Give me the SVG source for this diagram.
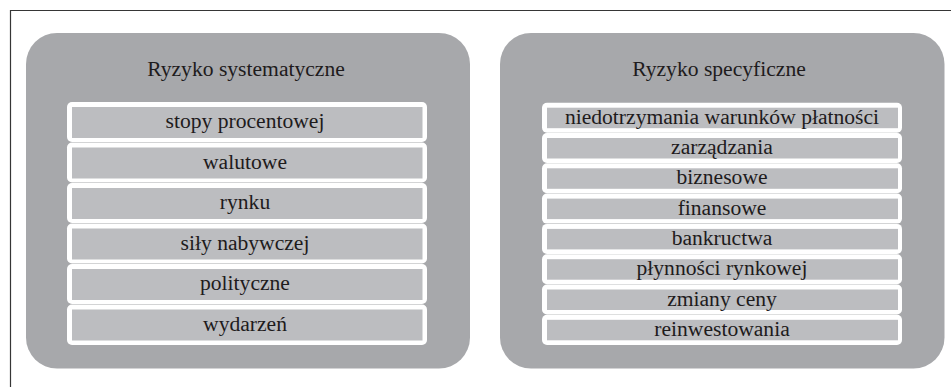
<svg xmlns="http://www.w3.org/2000/svg" width="951" height="387" viewBox="0 0 951 387">
  <style>
    .frame { fill: none; stroke: #363636; stroke-width: 1.2; }
    .panel { fill: #a7a8ab; }
    .slot { fill: #ffffff; }
    .band { fill: #bcbdc0; }
    text { font-family: "Liberation Serif", "Times New Roman", serif; font-size: 21.6px; fill: #1e1b1c; text-anchor: middle; }
  </style>

  <!-- page frame (top and left edges) -->
  <path class="frame" d="M10.5 387 V10.5 H951"/>

  <!-- systematic risk panel -->
  <g id="systematic">
    <rect class="panel" x="26" y="33" width="444" height="335.5" rx="31"/>
    <text x="246" y="76">Ryzyko systematyczne</text>
    <g id="sys-stopy">
      <rect class="slot" x="67" y="102" width="360" height="40" rx="5"/>
      <rect class="band" x="72" y="107" width="350.5" height="31"/>
      <text x="245" y="128.3">stopy procentowej</text>
    </g>
    <g id="sys-walutowe">
      <rect class="slot" x="67" y="142.5" width="360" height="40" rx="5"/>
      <rect class="band" x="72" y="147.5" width="350.5" height="31"/>
      <text x="245" y="168.8">walutowe</text>
    </g>
    <g id="sys-rynku">
      <rect class="slot" x="67" y="183" width="360" height="40" rx="5"/>
      <rect class="band" x="72" y="188" width="350.5" height="31"/>
      <text x="245" y="209.3">rynku</text>
    </g>
    <g id="sys-sily">
      <rect class="slot" x="67" y="223.5" width="360" height="40" rx="5"/>
      <rect class="band" x="72" y="228.5" width="350.5" height="31"/>
      <text x="245" y="249.8">siły nabywczej</text>
    </g>
    <g id="sys-polityczne">
      <rect class="slot" x="67" y="264" width="360" height="40" rx="5"/>
      <rect class="band" x="72" y="269" width="350.5" height="31"/>
      <text x="245" y="290.3">polityczne</text>
    </g>
    <g id="sys-wydarzen">
      <rect class="slot" x="67" y="304.5" width="360" height="40.5" rx="5"/>
      <rect class="band" x="72" y="309.5" width="350.5" height="31"/>
      <text x="245" y="330.8">wydarzeń</text>
    </g>
  </g>

  <!-- specific risk panel -->
  <g id="specific">
    <rect class="panel" x="500" y="33" width="444.5" height="335.5" rx="31"/>
    <text x="719" y="76">Ryzyko specyficzne</text>
    <g id="spec-niedotrzymania">
      <rect class="slot" x="542" y="102.7" width="360" height="30" rx="5"/>
      <rect class="band" x="547" y="107.7" width="351" height="20.5"/>
      <text x="722" y="123.7">niedotrzymania warunków płatności</text>
    </g>
    <g id="spec-zarzadzania">
      <rect class="slot" x="542" y="133" width="360" height="30" rx="5"/>
      <rect class="band" x="547" y="138" width="351" height="20.5"/>
      <text x="722" y="154">zarządzania</text>
    </g>
    <g id="spec-biznesowe">
      <rect class="slot" x="542" y="163.3" width="360" height="30" rx="5"/>
      <rect class="band" x="547" y="168.3" width="351" height="20.5"/>
      <text x="722" y="184.3">biznesowe</text>
    </g>
    <g id="spec-finansowe">
      <rect class="slot" x="542" y="193.6" width="360" height="30" rx="5"/>
      <rect class="band" x="547" y="198.6" width="351" height="20.5"/>
      <text x="722" y="214.6">finansowe</text>
    </g>
    <g id="spec-bankructwa">
      <rect class="slot" x="542" y="223.9" width="360" height="30" rx="5"/>
      <rect class="band" x="547" y="228.9" width="351" height="20.5"/>
      <text x="722" y="244.9">bankructwa</text>
    </g>
    <g id="spec-plynnosci">
      <rect class="slot" x="542" y="254.2" width="360" height="30" rx="5"/>
      <rect class="band" x="547" y="259.2" width="351" height="20.5"/>
      <text x="722" y="275.2">płynności rynkowej</text>
    </g>
    <g id="spec-zmiany">
      <rect class="slot" x="542" y="284.5" width="360" height="30" rx="5"/>
      <rect class="band" x="547" y="289.5" width="351" height="20.5"/>
      <text x="722" y="305.5">zmiany ceny</text>
    </g>
    <g id="spec-reinwestowania">
      <rect class="slot" x="542" y="314.8" width="360" height="30.2" rx="5"/>
      <rect class="band" x="547" y="319.8" width="351" height="20.5"/>
      <text x="722" y="335.8">reinwestowania</text>
    </g>
  </g>
</svg>
